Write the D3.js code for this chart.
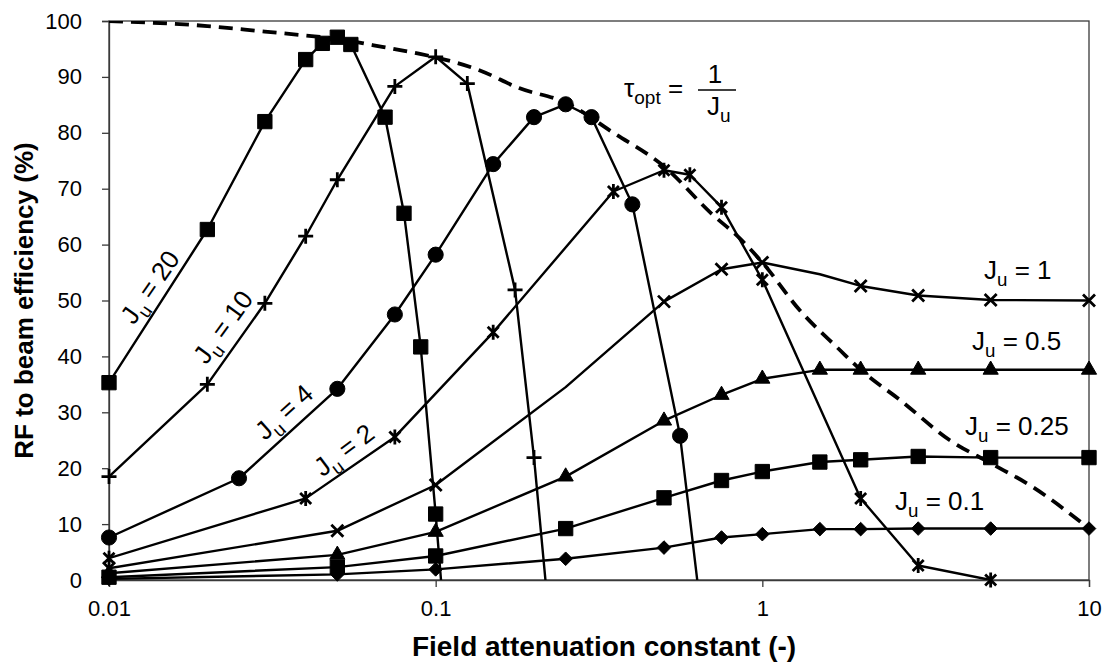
<!DOCTYPE html>
<html><head><meta charset="utf-8">
<script src="https://cdn.jsdelivr.net/npm/d3@7"></script>
<style>
html,body{margin:0;padding:0;background:#fff;}
svg text{font-family:"Liberation Sans",Arial,sans-serif;fill:#000;}
</style></head>
<body>
<svg id="chart" width="1109" height="664"></svg>
<script>
// ---- data ----
const xTicks = [0.01, 0.1, 1, 10];
const xTickLabels = ["0.01", "0.1", "1", "10"];
const yTicks = [0,10,20,30,40,50,60,70,80,90,100];

const xJ20 = [0.01,0.02,0.03,0.04,0.045,0.05,0.055,0.07,0.08,0.09,0.1,0.105];
const yJ20 = [35.3,62.7,82.0,93.1,96.0,97.1,95.8,82.8,65.6,41.7,11.8,-3.5];

const xJ10 = [0.01,0.02,0.03,0.04,0.05,0.075,0.1,0.125,0.175,0.2,0.22];
const yJ10 = [18.5,35.0,49.5,61.5,71.6,88.3,93.6,88.8,51.9,21.9,-4];

const xJ4 = [0.01,0.025,0.05,0.075,0.1,0.15,0.2,0.25,0.3,0.4,0.56,0.65];
const yJ4 = [7.6,18.2,34.2,47.5,58.2,74.4,82.8,85.1,82.8,67.2,25.8,-6];

const xJ2 = [0.01,0.04,0.075,0.15,0.35,0.5,0.6,0.75,1,2,3,5];
const yJ2 = [3.9,14.6,25.6,44.3,69.5,73.3,72.5,66.7,53.7,14.6,2.6,0];

const xJ1 = [0.01,0.05,0.1,0.25,0.5,0.75,1,1.5,2,3,5,10];
const yJ1 = [2.1,8.8,17.0,34.5,49.8,55.6,56.8,54.7,52.6,50.9,50.1,50.0];
const noMarkJ1 = [0.25, 1.5];

const xJ05 = [0.01,0.05,0.1,0.25,0.5,0.75,1,1.5,2,3,5,10];
const yJ05 = [1.2,4.5,8.6,18.5,28.5,33.1,36.0,37.6,37.6,37.6,37.6,37.6];

const xJ025 = [0.01,0.05,0.1,0.25,0.5,0.75,1,1.5,2,3,5,10];
const yJ025 = [0.5,2.3,4.3,9.2,14.7,17.8,19.4,21.1,21.5,22.1,21.9,21.9];

const xJ01 = [0.01,0.05,0.1,0.25,0.5,0.75,1,1.5,2,3,5,10];
const yJ01 = [0.2,1.0,1.9,3.8,5.8,7.6,8.2,9.1,9.1,9.2,9.2,9.2];

const xOpt = [0.01,0.02,0.03,0.04,0.05,0.064,0.088,0.1,0.136,0.18,0.25,0.35,0.5,0.7,0.85,1,1.3,1.73,2,2.64,3.75,5,6.7,10];
const yOpt = [100,99.1,98.1,97.4,96.8,95.7,94.2,93.5,91.2,88.0,85.4,80,74,65.5,61.2,56.8,48.3,41.1,37.6,32.2,25,20.9,16.7,9.2];

const seriesNames = ["20","10","4","2","1","0.5","0.25","0.1"];

// ---- layout ----
const L = 109, R = 1089, T = 21, B = 580;
const svg = d3.select("#chart");
const x = d3.scaleLog().domain([0.01, 10]).range([L, R]);
const y = d3.scaleLinear().domain([0, 100]).range([B, T]);

svg.append("defs").append("clipPath").attr("id","clip")
  .append("rect").attr("x",L).attr("y",T).attr("width",R-L).attr("height",B-T);

// frame
const axisColor = "#3a3a3a";
svg.append("rect").attr("x",L).attr("y",T).attr("width",R-L).attr("height",B-T)
  .attr("fill","none").attr("stroke",axisColor).attr("stroke-width",1.3);

// y axis
const yAxis = d3.axisLeft(y).tickValues(yTicks).tickSize(7).tickPadding(20).tickFormat(d3.format("d"));
const gy = svg.append("g").attr("transform",`translate(${L},0)`).call(yAxis);
gy.select(".domain").attr("stroke",axisColor).attr("stroke-width",1.3);
gy.selectAll(".tick line").attr("stroke",axisColor).attr("stroke-width",1.3);
gy.selectAll(".tick text").attr("font-size",22).attr("font-family","Liberation Sans, Arial, sans-serif").attr("fill","#000");

// x axis
const xAxis = d3.axisBottom(x).tickValues(xTicks).tickSize(7).tickPadding(13)
  .tickFormat((d,i)=>xTickLabels[i]);
const gx = svg.append("g").attr("transform",`translate(0,${B})`).call(xAxis);
gx.select(".domain").attr("stroke",axisColor).attr("stroke-width",1.3);
gx.selectAll(".tick line").attr("stroke",axisColor).attr("stroke-width",1.3);
gx.selectAll(".tick text").attr("font-size",22).attr("font-family","Liberation Sans, Arial, sans-serif").attr("fill","#000");

// axis titles
svg.append("text").attr("x",(L+R)/2+5).attr("y",656).attr("text-anchor","middle")
  .attr("font-size",28).attr("font-weight","bold").text("Field attenuation constant (-)");
svg.append("text").attr("transform",`translate(33,${(T+B)/2}) rotate(-90)`).attr("text-anchor","middle")
  .attr("font-size",26).attr("font-weight","bold").text("RF to beam efficiency (%)");

// ---- series ----
const plot = svg.append("g");
const lineGen = d3.line().x(d=>x(d[0])).y(d=>y(d[1]));
const zip = (a,b)=>a.map((v,i)=>[v,b[i]]);

// dashed optimum
plot.append("path").attr("clip-path","url(#clip)")
  .datum(zip(xOpt,yOpt))
  .attr("d", d3.line().x(d=>x(d[0])).y(d=>y(d[1])).curve(d3.curveMonotoneX))
  .attr("fill","none").attr("stroke","#000").attr("stroke-width",3.8)
  .attr("stroke-dasharray","14,8");

const markerPath = {
  square: d3.symbol().type(d3.symbolSquare).size(205)(),
  circle: d3.symbol().type(d3.symbolCircle).size(180)(),
  triangle: d3.symbol().type(d3.symbolTriangle).size(100)(),
  diamond: "M0,-6.8L6.8,0L0,6.8L-6.8,0Z",
  plus: "M-7.5,0H7.5M0,-7.5V7.5",
  cross: "M-6,-6L6,6M-6,6L6,-6",
  star: "M-5.5,-5.5L5.5,5.5M-5.5,5.5L5.5,-5.5M0,-7.5V7.5"
};
const series = [
  {xs:xJ20, ys:yJ20, m:"square"},
  {xs:xJ10, ys:yJ10, m:"plus"},
  {xs:xJ4, ys:yJ4, m:"circle"},
  {xs:xJ2, ys:yJ2, m:"star"},
  {xs:xJ1, ys:yJ1, m:"cross", hide:noMarkJ1},
  {xs:xJ05, ys:yJ05, m:"triangle"},
  {xs:xJ025, ys:yJ025, m:"square"},
  {xs:xJ01, ys:yJ01, m:"diamond"}
];
series.forEach((s,k)=>{
  const pts = zip(s.xs, s.ys);
  plot.append("path").attr("clip-path","url(#clip)").datum(pts).attr("d",lineGen)
    .attr("fill","none").attr("stroke","#000").attr("stroke-width",2.4).attr("stroke-linejoin","round");
  const shown = pts.filter(p=>p[1]>=0 && !(s.hide||[]).includes(p[0]));
  const filled = ["square","circle","triangle","diamond"].includes(s.m);
  plot.append("g").selectAll("path").data(shown).join("path")
    .attr("transform",d=>`translate(${x(d[0])},${y(d[1])})`)
    .attr("d",markerPath[s.m])
    .attr("fill",filled?"#000":"none")
    .attr("stroke","#000")
    .attr("stroke-width",filled?1:2.8);
});

// ---- labels ----
function juLabel(g, valueText, size){
  const t = g.append("text").attr("font-size",size);
  t.append("tspan").text("J");
  t.append("tspan").attr("font-size",size*0.72).attr("dy",size*0.28).text("u");
  t.append("tspan").attr("dy",-size*0.28).text(" = " + valueText);
  return t;
}
const rotLabels = [
  {v:"20", cx:150, cy:287, a:-55},
  {v:"10", cx:223, cy:327, a:-54},
  {v:"4", cx:284, cy:412, a:-42},
  {v:"2", cx:344, cy:450, a:-37}
];
rotLabels.forEach(d=>{
  const g = svg.append("g").attr("transform",`translate(${d.cx},${d.cy}) rotate(${d.a})`);
  juLabel(g, d.v, 26).attr("text-anchor","middle").attr("y",9);
});
const horLabels = [
  {v:"1", x0:984, y0:279},
  {v:"0.5", x0:972, y0:350},
  {v:"0.25", x0:965, y0:435},
  {v:"0.1", x0:895, y0:510}
];
horLabels.forEach(d=>{
  const g = svg.append("g").attr("transform",`translate(${d.x0},${d.y0})`);
  juLabel(g, d.v, 26);
});

// tau_opt = 1/J_u
const tg = svg.append("g").attr("transform","translate(624,97)");
const tt = tg.append("text").attr("font-size",26);
tt.append("tspan").text("τ");
tt.append("tspan").attr("font-size",19).attr("dy",7).text("opt");
tt.append("tspan").attr("dy",-7).text(" =");
tg.append("line").attr("x1",74).attr("x2",112).attr("y1",-7).attr("y2",-7).attr("stroke","#000").attr("stroke-width",1.3);
tg.append("text").attr("font-size",26).attr("x",91).attr("y",-14).attr("text-anchor","middle").text("1");
const tj = tg.append("text").attr("font-size",26).attr("x",83).attr("y",18);
tj.append("tspan").text("J");
tj.append("tspan").attr("font-size",19).attr("dy",7).text("u");
</script>
</body></html>
